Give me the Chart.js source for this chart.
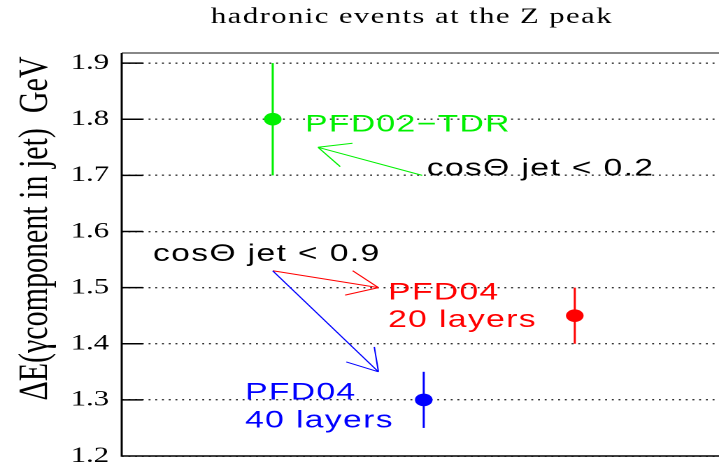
<!DOCTYPE html>
<html><head><meta charset="utf-8">
<script src="https://cdn.jsdelivr.net/npm/chart.js@4"></script>
<style>
html,body{margin:0;padding:0;background:#fff;overflow:hidden;width:719px;height:472px}
#wrap{position:absolute;left:0;top:0;width:514px;height:472px;transform:scaleX(1.3988);transform-origin:0 0}
canvas{display:block}
</style></head><body>
<div id="wrap"><canvas id="c" width="514" height="472"></canvas></div>
<script>
// ---- data ----
const chartTitle = 'hadronic events at the Z peak';
const yAxisTitle = '\u0394E(\u03b3component in jet)  GeV';
const categories = ['PFD02\u2212TDR', 'PFD04 40 layers', 'PFD04 20 layers'];
const xPositions = [1, 2, 3];
const deltaE = [1.80, 1.30, 1.45];
const deltaEErr = [0.10, 0.05, 0.05];
const seriesColors = ['#00f000', '#0000ff', '#ff0000'];
const yTicks = [1.2, 1.3, 1.4, 1.5, 1.6, 1.7, 1.8, 1.9];

// annotations (data coordinates)
const noteTexts = ['PFD02\u2212TDR', 'cos\u0398 jet < 0.2', 'cos\u0398 jet < 0.9', 'PFD04', '20 layers', 'PFD04', '40 layers'];
const noteX = [1.215, 2.02, 0.207, 1.764, 1.764, 0.817, 0.817];
const noteY = [1.778, 1.700, 1.547, 1.479, 1.430, 1.301, 1.251];
const noteColors = ['#00f000', '#000000', '#000000', '#ff0000', '#ff0000', '#0000ff', '#0000ff'];
const arrowFrom = [[1.99, 1.70], [1.00, 1.53], [1.00, 1.53]];
const arrowTo = [[1.30, 1.75], [1.70, 1.50], [1.70, 1.35]];
const arrowColors = ['#00f000', '#ff0000', '#0000ff'];

// ---- plugins ----
const errorBars = {
  id: 'errorBars',
  beforeDatasetsDraw(chart) {
    const {ctx, scales: {x, y}} = chart;
    ctx.save();
    ctx.lineWidth = 1.5;
    xPositions.forEach((xv, i) => {
      const px = x.getPixelForValue(xv);
      ctx.strokeStyle = seriesColors[i];
      ctx.beginPath();
      ctx.moveTo(px, y.getPixelForValue(deltaE[i] - deltaEErr[i]));
      ctx.lineTo(px, y.getPixelForValue(deltaE[i] + deltaEErr[i]));
      ctx.stroke();
    });
    ctx.restore();
  }
};

const notes = {
  id: 'notes',
  afterDatasetsDraw(chart) {
    const {ctx, scales: {x, y}} = chart;
    ctx.save();
    const L = 25, HA = Math.PI / 6;
    arrowFrom.forEach((f, i) => {
      const x0 = x.getPixelForValue(f[0]), y0 = y.getPixelForValue(f[1]);
      const x1 = x.getPixelForValue(arrowTo[i][0]), y1 = y.getPixelForValue(arrowTo[i][1]);
      const ang = Math.atan2(y0 - y1, x0 - x1);
      ctx.strokeStyle = arrowColors[i];
      ctx.lineWidth = 1;
      ctx.beginPath();
      ctx.moveTo(x0, y0); ctx.lineTo(x1, y1);
      for (const s of [-1, 1]) {
        ctx.moveTo(x1, y1);
        ctx.lineTo(x1 + L * Math.cos(ang + s * HA), y1 + L * Math.sin(ang + s * HA));
      }
      ctx.stroke();
    });
    ctx.font = '24px "Liberation Sans", Arial, sans-serif';
    ctx.letterSpacing = '1px';
    ctx.textAlign = 'left';
    ctx.textBaseline = 'alphabetic';
    noteTexts.forEach((t, i) => {
      ctx.fillStyle = noteColors[i];
      ctx.fillText(t, x.getPixelForValue(noteX[i]), y.getPixelForValue(noteY[i]));
    });
    ctx.restore();
  }
};

const frame = {
  id: 'frame',
  afterDraw(chart) {
    const {ctx, chartArea: a, scales: {y}} = chart;
    ctx.save();
    ctx.strokeStyle = '#888'; ctx.lineWidth = 2;
    ctx.beginPath(); ctx.moveTo(a.left, a.top); ctx.lineTo(a.right, a.top); ctx.stroke();
    ctx.strokeStyle = '#000'; ctx.lineWidth = 1.5;
    ctx.beginPath();
    ctx.moveTo(a.left, a.top); ctx.lineTo(a.left, a.bottom); ctx.lineTo(a.right, a.bottom);
    yTicks.forEach(v => {
      const py = y.getPixelForValue(v);
      ctx.moveTo(a.left, py); ctx.lineTo(a.left + 15, py);
    });
    ctx.stroke();
    // titles
    ctx.fillStyle = '#000';
    ctx.font = '22px "Liberation Serif", "Times New Roman", serif';
    ctx.letterSpacing = '1px';
    ctx.textAlign = 'center';
    ctx.textBaseline = 'alphabetic';
    ctx.fillText(chartTitle, (a.left + a.right) / 2 - 6, 23);
    ctx.letterSpacing = '0px';
    ctx.font = '30px "Liberation Serif", "Times New Roman", serif';
    ctx.translate(33.5, (a.top + a.bottom) / 2 - 26);
    ctx.rotate(-Math.PI / 2);
    ctx.fillText(yAxisTitle, 0, 0);
    ctx.restore();
  }
};

new Chart(document.getElementById('c'), {
  type: 'scatter',
  data: {
    datasets: categories.map((name, i) => ({
      label: name,
      data: [{x: xPositions[i], y: deltaE[i]}],
      pointRadius: 6.3,
      pointHoverRadius: 6.3,
      pointBackgroundColor: seriesColors[i],
      pointBorderWidth: 0,
      borderWidth: 0
    }))
  },
  options: {
    responsive: false,
    animation: false,
    devicePixelRatio: 2,
    layout: {autoPadding: false, padding: {top: 53, right: 0, bottom: 16, left: 0}},
    plugins: {legend: {display: false}, tooltip: {enabled: false}, title: {display: false}},
    scales: {
      x: {type: 'linear', min: 0, max: 3.955, display: false},
      y: {
        type: 'linear', min: 1.2, max: 1.918,
        afterBuildTicks: (s) => { s.ticks = yTicks.map(v => ({value: v})); },
        afterFit: (s) => { s.width = 87; s.paddingTop = 0; s.paddingBottom = 0; },
        grid: {color: '#333', lineWidth: 1.4, drawTicks: false},
        border: {display: false, dash: [1.4, 3.4]},
        ticks: {
          padding: 9, color: '#000',
          font: {family: '"Liberation Serif", "Times New Roman", serif', size: 22},
          callback: (v) => Number(v).toFixed(1)
        }
      }
    }
  },
  plugins: [errorBars, notes, frame]
});
</script>
</body></html>
